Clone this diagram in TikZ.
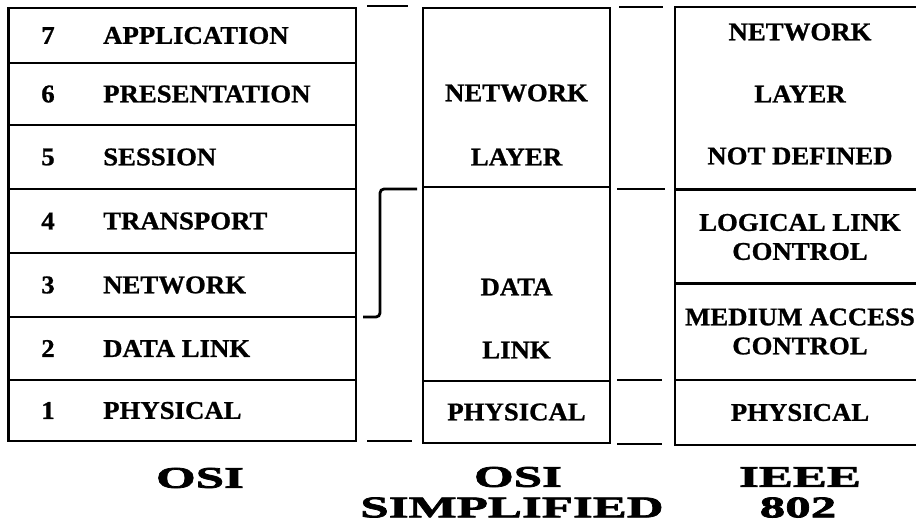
\documentclass[tikz,border=0pt]{standalone}
\usepackage{fontspec}
\setmainfont{Liberation Serif}
\newfontfamily\cellfont{Liberation Serif}[FakeStretch=1.05, FakeBold=0.9]
\newfontfamily\capfont{Liberation Serif}[FakeStretch=1.7, FakeBold=2.5]
\begin{document}
\begin{tikzpicture}[x=1pt, y=-1pt,
  cell/.style={draw, line width=2.8pt, inner sep=0pt, align=center,
    font=\cellfont\bfseries\fontsize{25.5}{29}\selectfont},
  lbl/.style={inner sep=0pt, align=center,
    font=\cellfont\bfseries\fontsize{25.5}{29}\selectfont},
  captext/.style={inner sep=0pt,
    font=\capfont\bfseries\fontsize{30}{33}\selectfont},
  tie/.style={line width=2.8pt}]
\useasboundingbox (0,0) rectangle (916,528);
\clip (0,0) rectangle (916,528);

% ---- OSI seven-layer stack ----
\node[cell, minimum width=347.5pt, minimum height=55pt] (osi7) at (182.25,35.5) {};
\node[cell, minimum width=347.5pt, minimum height=62pt] (osi6) at (182.25,94) {};
\node[cell, minimum width=347.5pt, minimum height=64pt] (osi5) at (182.25,157) {};
\node[cell, minimum width=347.5pt, minimum height=64pt] (osi4) at (182.25,221) {};
\node[cell, minimum width=347.5pt, minimum height=64pt] (osi3) at (182.25,285) {};
\node[cell, minimum width=347.5pt, minimum height=63pt] (osi2) at (182.25,348.5) {};
\node[cell, minimum width=347.5pt, minimum height=61pt] (osi1) at (182.25,410.5) {};

\node[lbl] (n7) at (48,35.5) {7};
\node[lbl] (n6) at (48,94) {6};
\node[lbl] (n5) at (48,157) {5};
\node[lbl] (n4) at (48,221) {4};
\node[lbl] (n3) at (48,285) {3};
\node[lbl] (n2) at (48,348.5) {2};
\node[lbl] (n1) at (48,410.5) {1};

\node[lbl, anchor=west] (l7) at (103,35.5) {APPLICATION};
\node[lbl, anchor=west] (l6) at (103,94) {PRESENTATION};
\node[lbl, anchor=west] (l5) at (103,157) {SESSION};
\node[lbl, anchor=west] (l4) at (103,221) {TRANSPORT};
\node[lbl, anchor=west] (l3) at (103,285) {NETWORK};
\node[lbl, anchor=west] (l2) at (103,348.5) {DATA LINK};
\node[lbl, anchor=west] (l1) at (103,410.5) {PHYSICAL};

% ---- simplified OSI stack ----
\node[cell, minimum width=187pt, minimum height=179pt] (snet) at (516.5,97.5) {};
\node[cell, minimum width=187pt, minimum height=194pt] (sdl) at (516.5,284) {};
\node[cell, minimum width=187pt, minimum height=62pt] (sphy) at (516.5,412) {PHYSICAL};
\node[lbl] (snet1) at (516.5,93) {NETWORK};
\node[lbl] (snet2) at (516.5,157) {LAYER};
\node[lbl] (sdl1) at (516.5,287) {DATA};
\node[lbl] (sdl2) at (516.5,350) {LINK};

% ---- IEEE 802 stack ----
\node[cell, minimum width=250pt, minimum height=182pt] (inet) at (800,98) {};
\node[cell, minimum width=250pt, minimum height=94pt] (illc) at (800,237) {LOGICAL LINK\\CONTROL};
\node[cell, minimum width=250pt, minimum height=97pt] (imac) at (800,331.5) {MEDIUM ACCESS\\CONTROL};
\node[cell, minimum width=250pt, minimum height=65pt] (iphy) at (800,412.5) {PHYSICAL};
\node[lbl] (inet1) at (800,32) {NETWORK};
\node[lbl] (inet2) at (800,94) {LAYER};
\node[lbl] (inet3) at (800,156) {NOT DEFINED};

% ---- short ties between the stacks ----
\coordinate (a1) at (367,6);   \coordinate (a2) at (408,6);
\coordinate (b1) at (367,441); \coordinate (b2) at (412,441);
\coordinate (c1) at (619,7);   \coordinate (c2) at (663,7);
\coordinate (d1) at (617,189); \coordinate (d2) at (665,189);
\coordinate (e1) at (617,380); \coordinate (e2) at (662,380);
\coordinate (f1) at (617,444); \coordinate (f2) at (662,444);
\draw[tie] (a1) -- (a2);
\draw[tie] (b1) -- (b2);
\draw[tie] (c1) -- (c2);
\draw[tie] (d1) -- (d2);
\draw[tie] (e1) -- (e2);
\draw[tie] (f1) -- (f2);

% stepped bracket: layers 3 and 4 fold into the simplified network layer
\coordinate (s1) at (417,189);
\coordinate (s2) at (363,317);
\draw[tie, rounded corners=4pt] (s1) -- (380,189) -- (380,317) -- (s2);

% ---- captions ----
\node[captext] (cosi) at (200,478) {OSI};
\node[captext] (csimp1) at (518,477) {OSI};
\node[captext] (csimp2) at (512,507.5) {SIMPLIFIED};
\node[captext] (cieee1) at (800,477) {IEEE};
\node[captext] (cieee2) at (798,507.5) {802};
\end{tikzpicture}
\end{document}
